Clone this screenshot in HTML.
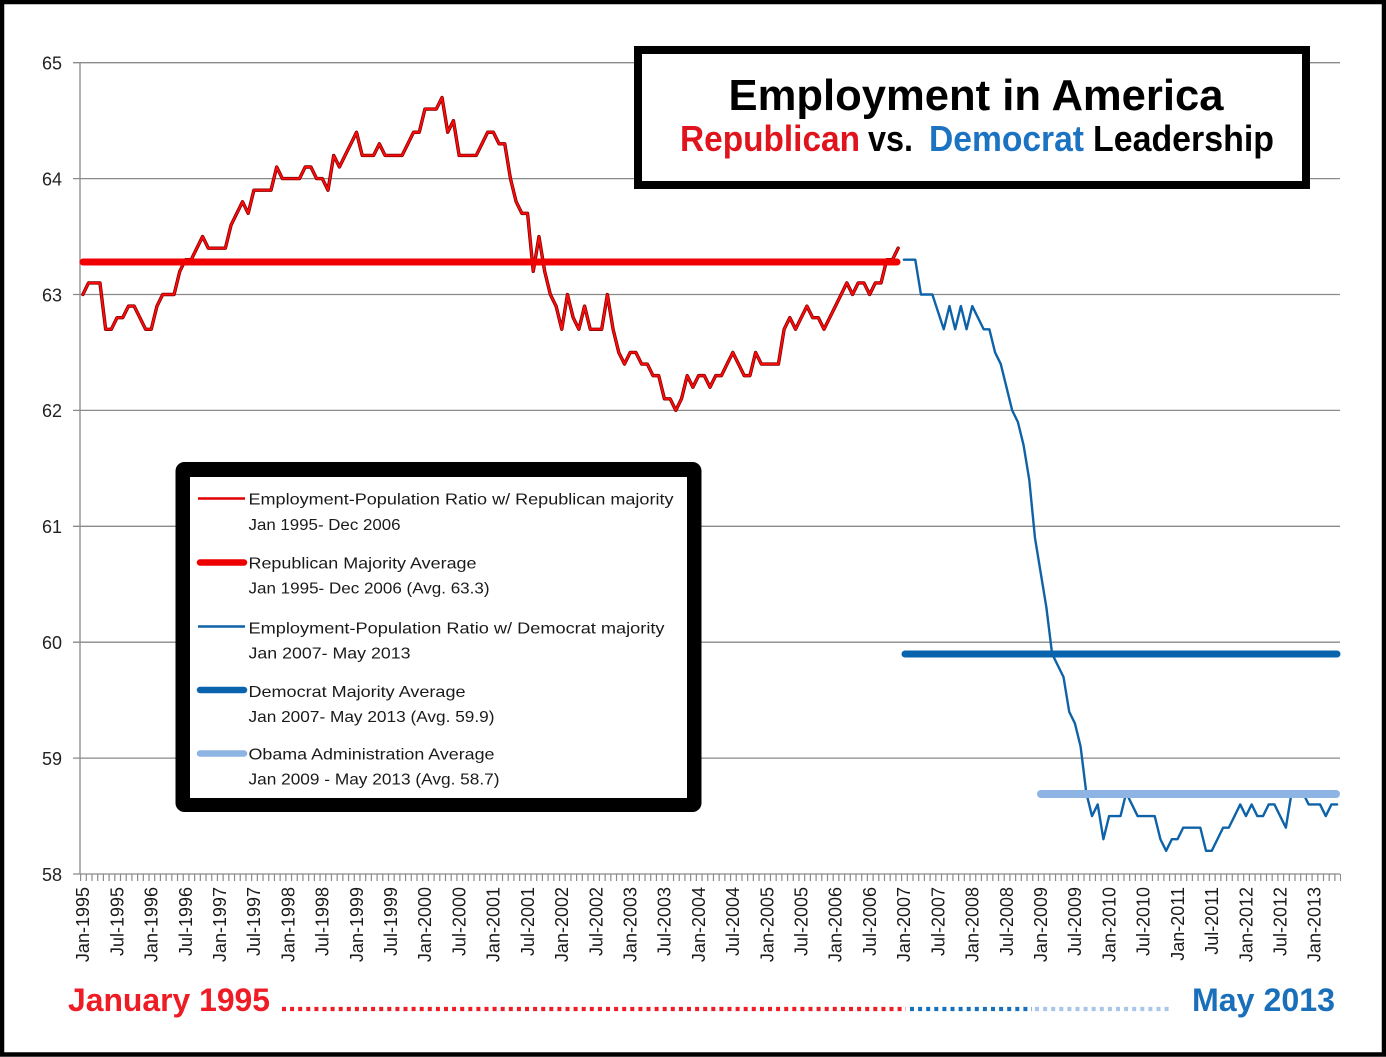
<!DOCTYPE html>
<html>
<head>
<meta charset="utf-8">
<style>
html,body{margin:0;padding:0;background:#fff;}
svg{display:block;}
text{font-family:"Liberation Sans",Arial,sans-serif;}
</style>
</head>
<body>
<svg width="1386" height="1057" viewBox="0 0 1386 1057" xmlns="http://www.w3.org/2000/svg">
<rect x="0" y="0" width="1386" height="1057" fill="#fff"/>

<!-- gridlines -->
<g stroke="#8a8a8a" stroke-width="1.3" fill="none">
<line x1="73" y1="62.7" x2="1340" y2="62.7"/>
<line x1="73" y1="178.6" x2="1340" y2="178.6"/>
<line x1="73" y1="294.5" x2="1340" y2="294.5"/>
<line x1="73" y1="410.4" x2="1340" y2="410.4"/>
<line x1="73" y1="526.3" x2="1340" y2="526.3"/>
<line x1="73" y1="642.2" x2="1340" y2="642.2"/>
<line x1="73" y1="758.1" x2="1340" y2="758.1"/>
<line x1="73" y1="874" x2="1340" y2="874"/>
<line x1="80" y1="62.7" x2="80" y2="874"/>
<line x1="80" y1="877.5" x2="1341" y2="877.5" stroke-width="7" stroke-dasharray="1.2 4.5014"/>
</g>

<!-- y labels -->
<g font-size="18" fill="#222" text-anchor="end">
<text x="62" y="69.5">65</text>
<text x="62" y="185.4">64</text>
<text x="62" y="301.3">63</text>
<text x="62" y="417.2">62</text>
<text x="62" y="533.1">61</text>
<text x="62" y="649">60</text>
<text x="62" y="764.9">59</text>
<text x="62" y="880.8">58</text>
</g>

<!-- x labels -->
<g font-size="18" fill="#1a1a1a" text-anchor="end">
<text transform="translate(82.85,887) rotate(-90)" dy="0.35em">Jan-1995</text>
<text transform="translate(117.06,887) rotate(-90)" dy="0.35em">Jul-1995</text>
<text transform="translate(151.27,887) rotate(-90)" dy="0.35em">Jan-1996</text>
<text transform="translate(185.48,887) rotate(-90)" dy="0.35em">Jul-1996</text>
<text transform="translate(219.68,887) rotate(-90)" dy="0.35em">Jan-1997</text>
<text transform="translate(253.89,887) rotate(-90)" dy="0.35em">Jul-1997</text>
<text transform="translate(288.10,887) rotate(-90)" dy="0.35em">Jan-1998</text>
<text transform="translate(322.31,887) rotate(-90)" dy="0.35em">Jul-1998</text>
<text transform="translate(356.52,887) rotate(-90)" dy="0.35em">Jan-1999</text>
<text transform="translate(390.73,887) rotate(-90)" dy="0.35em">Jul-1999</text>
<text transform="translate(424.93,887) rotate(-90)" dy="0.35em">Jan-2000</text>
<text transform="translate(459.14,887) rotate(-90)" dy="0.35em">Jul-2000</text>
<text transform="translate(493.35,887) rotate(-90)" dy="0.35em">Jan-2001</text>
<text transform="translate(527.56,887) rotate(-90)" dy="0.35em">Jul-2001</text>
<text transform="translate(561.77,887) rotate(-90)" dy="0.35em">Jan-2002</text>
<text transform="translate(595.98,887) rotate(-90)" dy="0.35em">Jul-2002</text>
<text transform="translate(630.18,887) rotate(-90)" dy="0.35em">Jan-2003</text>
<text transform="translate(664.39,887) rotate(-90)" dy="0.35em">Jul-2003</text>
<text transform="translate(698.60,887) rotate(-90)" dy="0.35em">Jan-2004</text>
<text transform="translate(732.81,887) rotate(-90)" dy="0.35em">Jul-2004</text>
<text transform="translate(767.02,887) rotate(-90)" dy="0.35em">Jan-2005</text>
<text transform="translate(801.23,887) rotate(-90)" dy="0.35em">Jul-2005</text>
<text transform="translate(835.43,887) rotate(-90)" dy="0.35em">Jan-2006</text>
<text transform="translate(869.64,887) rotate(-90)" dy="0.35em">Jul-2006</text>
<text transform="translate(903.85,887) rotate(-90)" dy="0.35em">Jan-2007</text>
<text transform="translate(938.06,887) rotate(-90)" dy="0.35em">Jul-2007</text>
<text transform="translate(972.27,887) rotate(-90)" dy="0.35em">Jan-2008</text>
<text transform="translate(1006.48,887) rotate(-90)" dy="0.35em">Jul-2008</text>
<text transform="translate(1040.69,887) rotate(-90)" dy="0.35em">Jan-2009</text>
<text transform="translate(1074.89,887) rotate(-90)" dy="0.35em">Jul-2009</text>
<text transform="translate(1109.10,887) rotate(-90)" dy="0.35em">Jan-2010</text>
<text transform="translate(1143.31,887) rotate(-90)" dy="0.35em">Jul-2010</text>
<text transform="translate(1177.52,887) rotate(-90)" dy="0.35em">Jan-2011</text>
<text transform="translate(1211.73,887) rotate(-90)" dy="0.35em">Jul-2011</text>
<text transform="translate(1245.94,887) rotate(-90)" dy="0.35em">Jan-2012</text>
<text transform="translate(1280.14,887) rotate(-90)" dy="0.35em">Jul-2012</text>
<text transform="translate(1314.35,887) rotate(-90)" dy="0.35em">Jan-2013</text>
</g>

<!-- series -->
<g transform="translate(82.85,874) scale(5.7014,-115.9)" fill="none" stroke-linejoin="round" stroke-linecap="round">
<polyline vector-effect="non-scaling-stroke" stroke="#7a0000" stroke-width="3.4" points="0,5 1,5.1 2,5.1 3,5.1 4,4.7 5,4.7 6,4.8 7,4.8 8,4.9 9,4.9 10,4.8 11,4.7 12,4.7 13,4.9 14,5 15,5 16,5 17,5.2 18,5.3 19,5.3 20,5.4 21,5.5 22,5.4 23,5.4 24,5.4 25,5.4 26,5.6 27,5.7 28,5.8 29,5.7 30,5.9 31,5.9 32,5.9 33,5.9 34,6.1 35,6 36,6 37,6 38,6 39,6.1 40,6.1 41,6 42,6 43,5.9 44,6.2 45,6.1 46,6.2 47,6.3 48,6.4 49,6.2 50,6.2 51,6.2 52,6.3 53,6.2 54,6.2 55,6.2 56,6.2 57,6.3 58,6.4 59,6.4 60,6.6 61,6.6 62,6.6 63,6.7 64,6.4 65,6.5 66,6.2 67,6.2 68,6.2 69,6.2 70,6.3 71,6.4 72,6.4 73,6.3 74,6.3 75,6 76,5.8 77,5.7 78,5.7 79,5.2 80,5.5 81,5.2 82,5 83,4.9 84,4.7 85,5 86,4.8 87,4.7 88,4.9 89,4.7 90,4.7 91,4.7 92,5 93,4.7 94,4.5 95,4.4 96,4.5 97,4.5 98,4.4 99,4.4 100,4.3 101,4.3 102,4.1 103,4.1 104,4 105,4.1 106,4.3 107,4.2 108,4.3 109,4.3 110,4.2 111,4.3 112,4.3 113,4.4 114,4.5 115,4.4 116,4.3 117,4.3 118,4.5 119,4.4 120,4.4 121,4.4 122,4.4 123,4.7 124,4.8 125,4.7 126,4.8 127,4.9 128,4.8 129,4.8 130,4.7 131,4.8 132,4.9 133,5 134,5.1 135,5 136,5.1 137,5.1 138,5 139,5.1 140,5.1 141,5.3 142,5.3 143,5.4"/>
<polyline vector-effect="non-scaling-stroke" stroke="#ff0a0a" stroke-width="1.9" points="0,5 1,5.1 2,5.1 3,5.1 4,4.7 5,4.7 6,4.8 7,4.8 8,4.9 9,4.9 10,4.8 11,4.7 12,4.7 13,4.9 14,5 15,5 16,5 17,5.2 18,5.3 19,5.3 20,5.4 21,5.5 22,5.4 23,5.4 24,5.4 25,5.4 26,5.6 27,5.7 28,5.8 29,5.7 30,5.9 31,5.9 32,5.9 33,5.9 34,6.1 35,6 36,6 37,6 38,6 39,6.1 40,6.1 41,6 42,6 43,5.9 44,6.2 45,6.1 46,6.2 47,6.3 48,6.4 49,6.2 50,6.2 51,6.2 52,6.3 53,6.2 54,6.2 55,6.2 56,6.2 57,6.3 58,6.4 59,6.4 60,6.6 61,6.6 62,6.6 63,6.7 64,6.4 65,6.5 66,6.2 67,6.2 68,6.2 69,6.2 70,6.3 71,6.4 72,6.4 73,6.3 74,6.3 75,6 76,5.8 77,5.7 78,5.7 79,5.2 80,5.5 81,5.2 82,5 83,4.9 84,4.7 85,5 86,4.8 87,4.7 88,4.9 89,4.7 90,4.7 91,4.7 92,5 93,4.7 94,4.5 95,4.4 96,4.5 97,4.5 98,4.4 99,4.4 100,4.3 101,4.3 102,4.1 103,4.1 104,4 105,4.1 106,4.3 107,4.2 108,4.3 109,4.3 110,4.2 111,4.3 112,4.3 113,4.4 114,4.5 115,4.4 116,4.3 117,4.3 118,4.5 119,4.4 120,4.4 121,4.4 122,4.4 123,4.7 124,4.8 125,4.7 126,4.8 127,4.9 128,4.8 129,4.8 130,4.7 131,4.8 132,4.9 133,5 134,5.1 135,5 136,5.1 137,5.1 138,5 139,5.1 140,5.1 141,5.3 142,5.3 143,5.4"/>
<polyline vector-effect="non-scaling-stroke" stroke="#0e62a8" stroke-width="2.4" points="144,5.3 145,5.3 146,5.3 147,5 148,5 149,5 150,4.85 151,4.7 152,4.9 153,4.7 154,4.9 155,4.7 156,4.9 157,4.8 158,4.7 159,4.7 160,4.5 161,4.4 162,4.2 163,4 164,3.9 165,3.7 166,3.4 167,2.9 168,2.6 169,2.3 170,1.9 171,1.8 172,1.7 173,1.4 174,1.3 175,1.1 176,0.7 177,0.5 178,0.6 179,0.3 180,0.5 181,0.5 182,0.5 183,0.7 184,0.6 185,0.5 186,0.5 187,0.5 188,0.5 189,0.3 190,0.2 191,0.3 192,0.3 193,0.4 194,0.4 195,0.4 196,0.4 197,0.2 198,0.2 199,0.3 200,0.4 201,0.4 202,0.5 203,0.6 204,0.5 205,0.6 206,0.5 207,0.5 208,0.6 209,0.6 210,0.5 211,0.4 212,0.7 213,0.7 214,0.7 215,0.6 216,0.6 217,0.6 218,0.5 219,0.6 220,0.6"/>
</g>

<!-- averages -->
<line x1="83" y1="262" x2="897" y2="262" stroke="#f00000" stroke-width="7" stroke-linecap="round"/>
<line x1="905" y1="654" x2="1337" y2="654" stroke="#0a64ad" stroke-width="7" stroke-linecap="round"/>
<line x1="1041" y1="794" x2="1336" y2="794" stroke="#8db4e2" stroke-width="8" stroke-linecap="round"/>

<!-- title box -->
<rect x="638" y="50" width="668" height="135" fill="#fff" stroke="#000" stroke-width="8"/>
<text x="728.5" y="110" font-size="44" font-weight="bold" fill="#000" textLength="495" lengthAdjust="spacingAndGlyphs">Employment in America</text>
<text x="680" y="151" font-size="36" font-weight="bold" fill="#e0141c" textLength="180" lengthAdjust="spacingAndGlyphs">Republican</text>
<text x="868" y="151" font-size="36" font-weight="bold" fill="#000" textLength="45" lengthAdjust="spacingAndGlyphs">vs.</text>
<text x="929" y="151" font-size="36" font-weight="bold" fill="#1b73c2" textLength="155" lengthAdjust="spacingAndGlyphs">Democrat</text>
<text x="1093" y="151" font-size="36" font-weight="bold" fill="#000" textLength="181" lengthAdjust="spacingAndGlyphs">Leadership</text>

<!-- legend -->
<rect x="175.5" y="462" width="526" height="350" rx="9" ry="9" fill="#000"/>
<rect x="190" y="477" width="497" height="321" fill="#fff"/>
<line x1="198" y1="498.5" x2="245" y2="498.5" stroke="#e00000" stroke-width="2.4"/>
<line x1="200" y1="562.5" x2="244" y2="562.5" stroke="#ee0000" stroke-width="6.5" stroke-linecap="round"/>
<line x1="198" y1="626.5" x2="245" y2="626.5" stroke="#0e62a8" stroke-width="2.4"/>
<line x1="200" y1="690" x2="244" y2="690" stroke="#0a64ad" stroke-width="6.5" stroke-linecap="round"/>
<line x1="200" y1="753.5" x2="244" y2="753.5" stroke="#8db4e2" stroke-width="6.5" stroke-linecap="round"/>
<g font-size="16" fill="#1a1a1a">
<text x="248.5" y="504.5" textLength="425" lengthAdjust="spacingAndGlyphs">Employment-Population Ratio w/ Republican majority</text>
<text x="248.5" y="530" textLength="152" lengthAdjust="spacingAndGlyphs">Jan 1995- Dec 2006</text>
<text x="248.5" y="568.5" textLength="228" lengthAdjust="spacingAndGlyphs">Republican Majority Average</text>
<text x="248.5" y="593.5" textLength="241" lengthAdjust="spacingAndGlyphs">Jan 1995- Dec 2006 (Avg. 63.3)</text>
<text x="248.5" y="633.5" textLength="416" lengthAdjust="spacingAndGlyphs">Employment-Population Ratio w/ Democrat majority</text>
<text x="248.5" y="658.5" textLength="162" lengthAdjust="spacingAndGlyphs">Jan 2007-  May 2013</text>
<text x="248.5" y="697" textLength="217" lengthAdjust="spacingAndGlyphs">Democrat Majority Average</text>
<text x="248.5" y="722" textLength="246" lengthAdjust="spacingAndGlyphs">Jan 2007- May 2013 (Avg. 59.9)</text>
<text x="248.5" y="759.5" textLength="246" lengthAdjust="spacingAndGlyphs">Obama Administration Average</text>
<text x="248.5" y="784.5" textLength="251" lengthAdjust="spacingAndGlyphs">Jan 2009 - May 2013 (Avg. 58.7)</text>
</g>

<!-- bottom -->
<text x="68" y="1011" font-size="32" font-weight="bold" fill="#ee1c25" textLength="202" lengthAdjust="spacingAndGlyphs">January 1995</text>
<text x="1192" y="1011" font-size="32" font-weight="bold" fill="#1a6fba" textLength="143" lengthAdjust="spacingAndGlyphs">May 2013</text>
<line x1="282" y1="1009" x2="906" y2="1009" stroke="#ee1c25" stroke-width="4.2" stroke-dasharray="4 4.1"/>
<line x1="910" y1="1009" x2="1032" y2="1009" stroke="#1a6fba" stroke-width="4.2" stroke-dasharray="4 4.1"/>
<line x1="1035" y1="1009" x2="1172" y2="1009" stroke="#a9c6ea" stroke-width="4.2" stroke-dasharray="4 4.1"/>

<!-- outer border -->
<rect x="2" y="2" width="1382" height="1052.5" fill="none" stroke="#000" stroke-width="4.5"/>
</svg>
</body>
</html>
